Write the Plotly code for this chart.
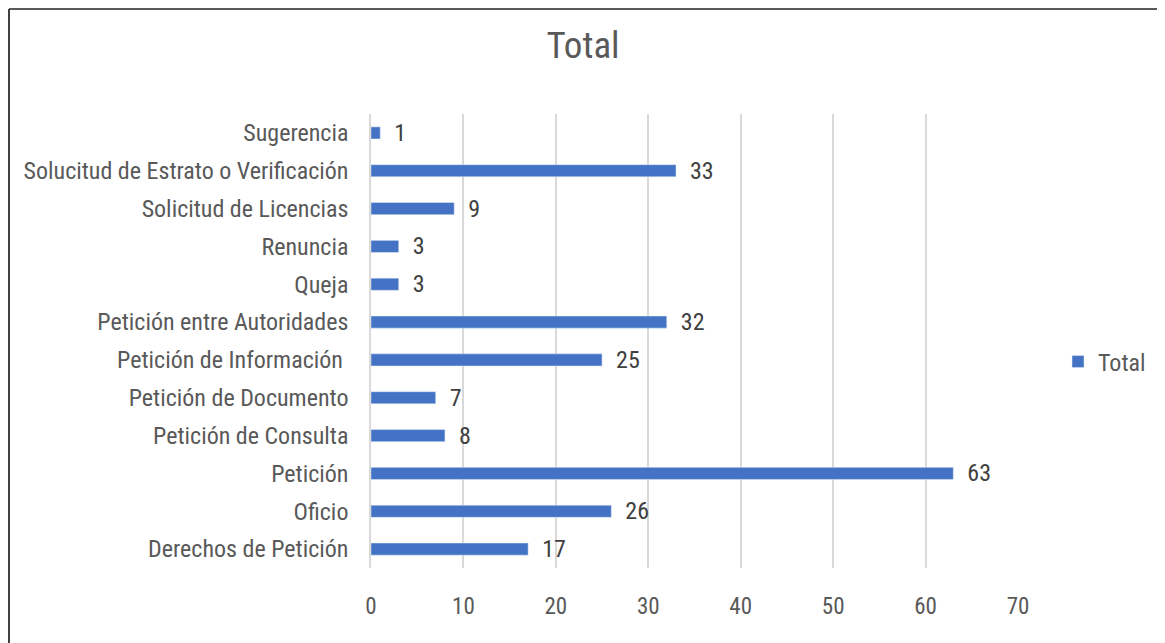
import plotly.graph_objects as go

categories = ["Derechos de Petición", "Oficio", "Petición", "Petición de Consulta",
              "Petición de Documento", "Petición de Información\u00a0", "Petición entre Autoridades",
              "Queja", "Renuncia", "Solicitud de Licencias",
              "Solucitud de Estrato o Verificación", "Sugerencia"]
values = [17, 26, 63, 8, 7, 25, 32, 3, 3, 9, 33, 1]
x_ticks = [0, 10, 20, 30, 40, 50, 60, 70]

FONT = "Roboto Condensed, Liberation Sans Narrow, Arial Narrow, sans-serif"

OFF = 8  # page offset
W, H = 1165 - OFF, 643 - OFF
L, R, T, B = 371 - OFF, 147, 114 - OFF, 75
pw, ph = W - L - R, H - T - B


def px_x(p):
    return (p - OFF - L) / pw


def px_y(p):
    return (H - B - (p - OFF)) / ph


fig = go.Figure()
fig.add_trace(go.Bar(
    y=categories, x=values, orientation="h", name="Total",
    marker=dict(color="#4472C4"),
    text=values, texttemplate="\u00a0\u00a0%{x}", textposition="outside",
    cliponaxis=False, constraintext="none",
    textfont=dict(size=24, color="#404040", family=FONT),
))

fig.update_layout(
    width=W, height=H,
    margin=dict(l=L, r=R, t=T, b=B, autoexpand=False),
    paper_bgcolor="white", plot_bgcolor="white",
    font=dict(family=FONT, color="#595959", size=24),
    title=dict(text="Total", x=(583 - OFF) / W, xanchor="center", y=1 - (45 - OFF) / H, yanchor="middle",
               font=dict(size=37, color="#595959", family=FONT)),
    bargap=0.68,
    showlegend=True,
    legend=dict(x=px_x(1058), y=px_y(362), xanchor="left", yanchor="middle",
                font=dict(size=24, color="#595959", family=FONT),
                itemwidth=30, bgcolor="rgba(0,0,0,0)"),
    xaxis=dict(range=[0, 70], tickvals=x_ticks, showgrid=True, gridcolor="#d9d9d9", gridwidth=1.5,
               zeroline=False, showline=False, ticks="", tickfont=dict(size=23, color="#595959"),
               ticklabelstandoff=22),
    yaxis=dict(categoryorder="array", categoryarray=categories, showgrid=False,
               showline=True, linecolor="#d9d9d9", linewidth=1.5, ticks="",
               tickfont=dict(size=24, color="#595959"), ticklabelstandoff=16),
    shapes=[
        dict(type="line", xref="paper", yref="paper", x0=px_x(9), x1=px_x(1170), y0=px_y(9), y1=px_y(9),
             line=dict(color="#595959", width=2)),
        dict(type="line", xref="paper", yref="paper", x0=px_x(9), x1=px_x(9), y0=px_y(9), y1=px_y(650),
             line=dict(color="#404040", width=2)),
    ],
)

fig.write_html("out.html")
